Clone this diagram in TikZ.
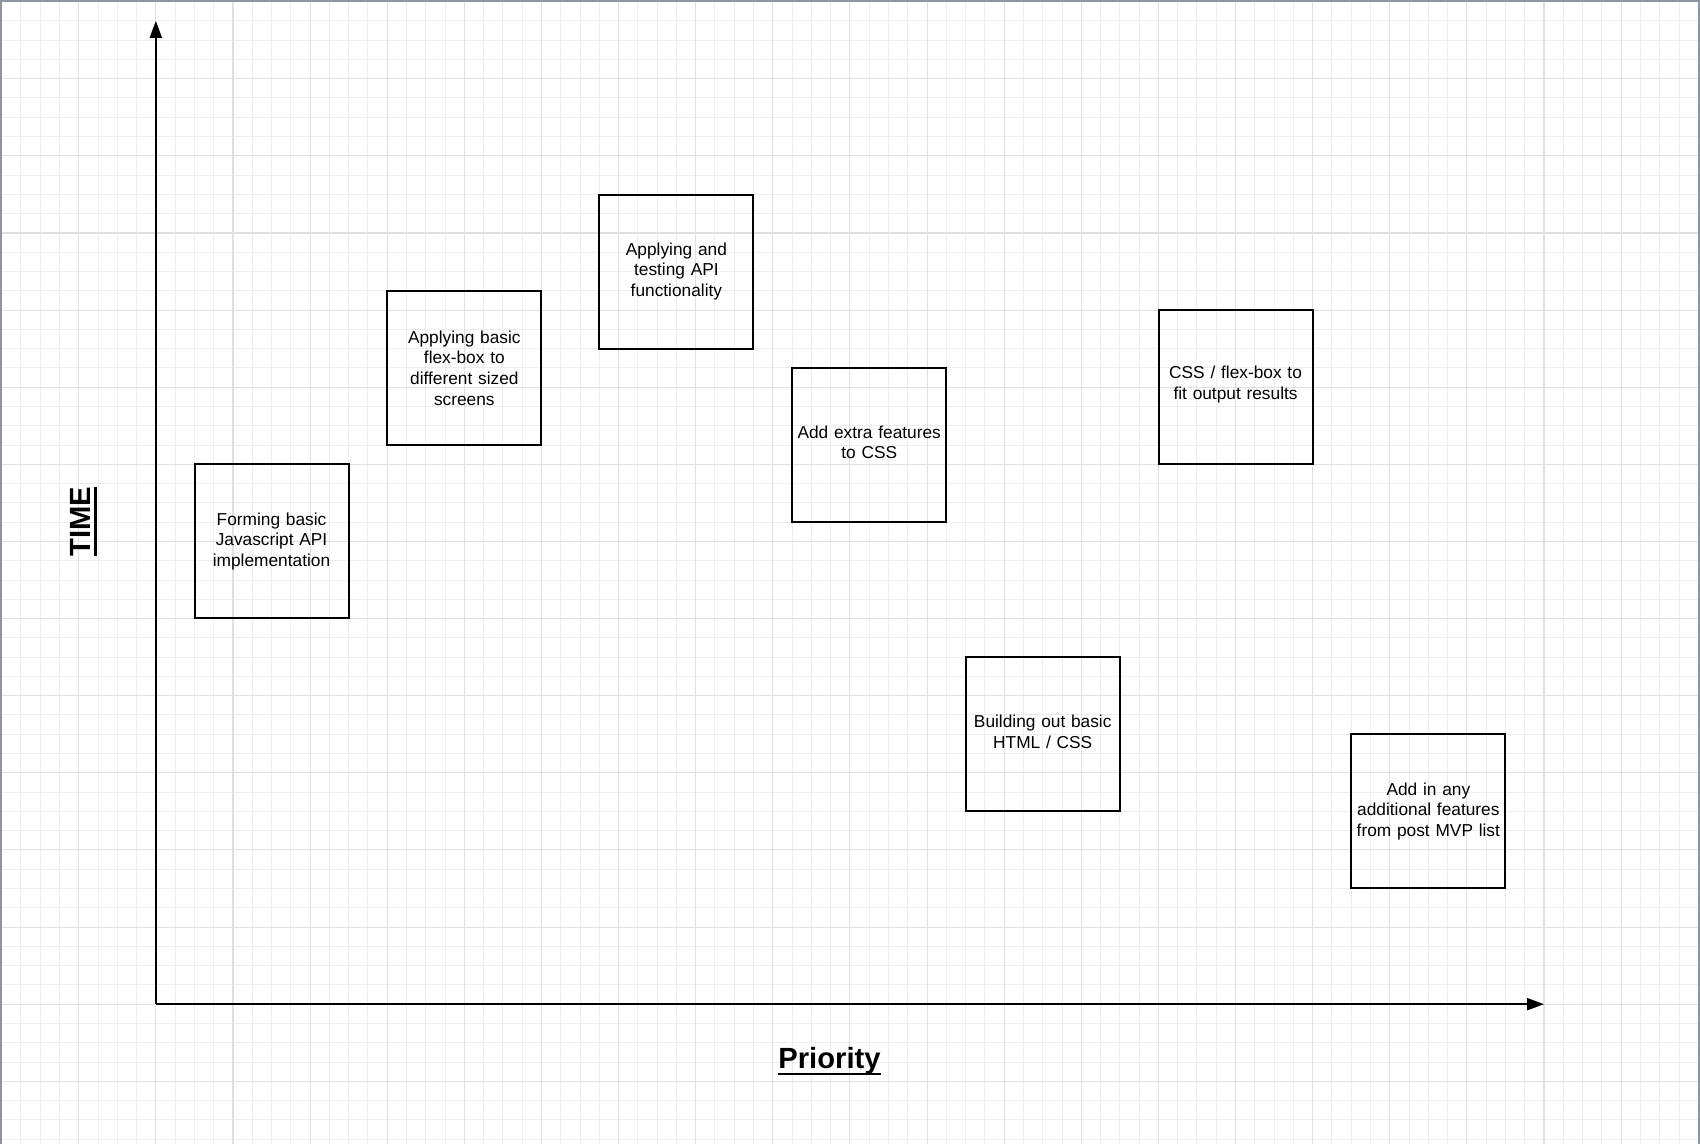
\documentclass[tikz,border=0pt]{standalone}
\usepackage{fontspec}
\setmainfont{Liberation Sans}
\usetikzlibrary{arrows.meta}
\definecolor{gridminor}{HTML}{EDEDED}
\definecolor{gridmajor}{HTML}{E0E0E0}
\definecolor{frame}{HTML}{8F959E}
% bold title with a heavy underline
\newcommand\axistitle[1]{\setbox0\hbox{\fontsize{14.6}{17}\selectfont\bfseries #1}%
  \rlap{\rule[-3.4pt]{\wd0}{1.3pt}}\box0}
\tikzset{
  x=9.64pt, y=-9.64pt,
  minorline/.style={draw=gridminor, line width=0.5pt},
  majorline/.style={draw=gridmajor, line width=0.55pt},
  taskbox/.style={draw=black, line width=1pt, fill=none, minimum width=77pt,
    minimum height=77pt, inner sep=0pt},
  tasktext/.style={inner sep=0pt, align=center, text width=74pt,
    font=\fontsize{8.65}{10.3}\selectfont},
  shorttext/.style={tasktext, yshift=1.3pt},
  axisline/.style={line width=1pt, -{Triangle[length=8.5pt,width=6pt]}},
}
\begin{document}
\begin{tikzpicture}
  % page: 1700 x 1144 px, one grid cell = 19.28 px, grid origin 1.6 px from the corner
  \useasboundingbox (-0.083,-0.083) rectangle (88.09,59.25);
  \fill[white] (-0.083,-0.083) rectangle (88.09,59.25);
  % minor grid
  \foreach \i in {0,...,88} \draw[minorline] (\i,-0.083) -- (\i,59.25);
  \foreach \j in {0,...,59} \draw[minorline] (-0.083,\j) -- (88.09,\j);
  % major grid
  \foreach \i in {0,4,...,88} \draw[majorline] (\i,-0.083) -- (\i,59.25);
  \foreach \j in {0,4,...,56} \draw[majorline] (-0.083,\j) -- (88.09,\j);
  % frame
  \draw[frame, line width=1.4pt] (-0.03,59.25) -- (-0.03,-0.03) -- (88.04,-0.03) -- (88.04,59.25);

  % axes
  \coordinate (origin) at (8,52);
  \coordinate (ytip) at (8,1);
  \coordinate (xtip) at (80,52);
  \draw[axisline] (origin) -- (ytip);
  \draw[axisline] (origin) -- (xtip);
  \node[rotate=90, inner sep=0pt] (timelabel) at (4.25,26.97) {\axistitle{TIME}};
  \node[inner sep=0pt] (prioritylabel) at (42.94,54.97) {\axistitle{Priority}};

  % tasks
  \node[taskbox, label={[tasktext]center:Forming basic\\Javascript API\\implementation}] (jsapi) at (14,28) {};
  \node[taskbox, label={[tasktext]center:Applying basic\\flex-box to\\different sized\\screens}] (flexbasic) at (24,19) {};
  \node[taskbox, label={[tasktext]center:Applying and\\testing API\\functionality}] (apitest) at (35,14) {};
  \node[taskbox, label={[shorttext]center:Add extra features\\to CSS}] (cssextra) at (45,23) {};
  \node[taskbox, label={[shorttext]center:CSS / flex-box to\\fit output results}] (cssfit) at (64,20) {};
  \node[taskbox, label={[shorttext]center:Building out basic\\HTML / CSS}] (htmlcss) at (54,38) {};
  \node[taskbox, label={[tasktext]center:Add in any\\additional features\\from post MVP list}] (postmvp) at (74,42) {};
\end{tikzpicture}
\end{document}
